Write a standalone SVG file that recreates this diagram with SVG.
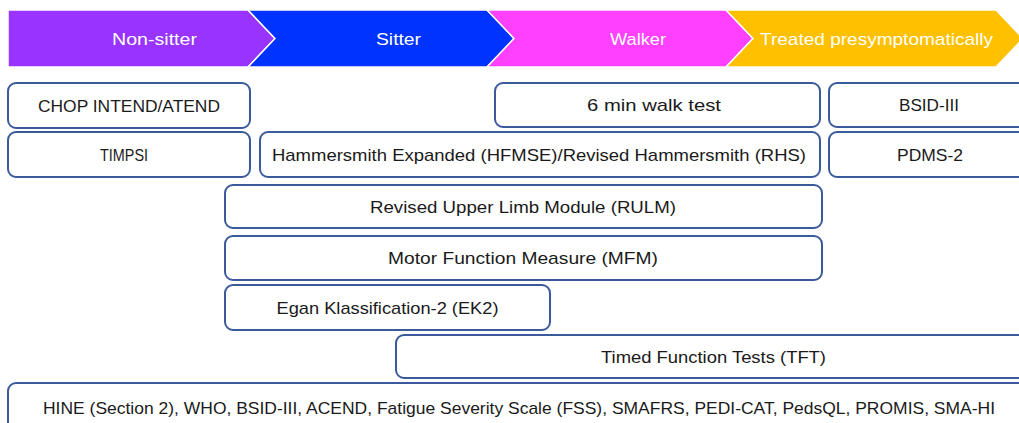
<svg xmlns="http://www.w3.org/2000/svg" width="1019" height="423" viewBox="0 0 1019 423">
<style>
.chev{stroke:#ffffff;stroke-width:1.5;stroke-linejoin:miter}
.hdr{font-family:"Liberation Sans",Arial,sans-serif;font-size:17px;fill:#ffffff;text-anchor:middle}
.box{fill:#ffffff;stroke:#3a5a9b;stroke-width:2}
.lbl{font-family:"Liberation Sans",Arial,sans-serif;font-size:17px;fill:#1a1a1a;text-anchor:middle}
</style>
<rect width="1019" height="423" fill="#ffffff"/>
<g id="stage-nonsitter">
<polygon class="chev" fill="#9933ff" points="8,10 248,10 275,38.5 248,67 8,67"/>
<text class="hdr" x="154.5" y="45" textLength="85" lengthAdjust="spacingAndGlyphs">Non-sitter</text>
</g>
<g id="stage-sitter">
<polygon class="chev" fill="#0033ff" points="248,10 487,10 514,38.5 487,67 248,67 275,38.5"/>
<text class="hdr" x="398.5" y="45" textLength="45" lengthAdjust="spacingAndGlyphs">Sitter</text>
</g>
<g id="stage-walker">
<polygon class="chev" fill="#ff40ff" points="487,10 726,10 753,38.5 726,67 487,67 514,38.5"/>
<text class="hdr" x="638" y="45" textLength="56" lengthAdjust="spacingAndGlyphs">Walker</text>
</g>
<g id="stage-treated">
<polygon class="chev" fill="#ffc000" points="726,10 996,10 1023,38.5 996,67 726,67 753,38.5"/>
<text class="hdr" x="876.5" y="45" textLength="233" lengthAdjust="spacingAndGlyphs">Treated presymptomatically</text>
</g>
<g id="chop">
<rect class="box" x="8" y="83" width="242" height="45" rx="8"/>
<text class="lbl" x="129" y="112" textLength="182" lengthAdjust="spacingAndGlyphs">CHOP INTEND/ATEND</text>
</g>
<g id="timpsi">
<rect class="box" x="8" y="132" width="242" height="45" rx="8"/>
<text class="lbl" x="124" y="161" textLength="48" lengthAdjust="spacingAndGlyphs">TIMPSI</text>
</g>
<g id="walktest">
<rect class="box" x="495" y="83" width="325" height="44" rx="8"/>
<text class="lbl" x="654" y="111" textLength="134" lengthAdjust="spacingAndGlyphs">6 min walk test</text>
</g>
<g id="bsid">
<rect class="box" x="829" y="83" width="201" height="44" rx="8"/>
<text class="lbl" x="929" y="111" textLength="60" lengthAdjust="spacingAndGlyphs">BSID-III</text>
</g>
<g id="hammersmith">
<rect class="box" x="260" y="132" width="560" height="45" rx="8"/>
<text class="lbl" x="539" y="161" textLength="534" lengthAdjust="spacingAndGlyphs">Hammersmith Expanded (HFMSE)/Revised Hammersmith (RHS)</text>
</g>
<g id="pdms">
<rect class="box" x="829" y="132" width="201" height="45" rx="8"/>
<text class="lbl" x="930" y="161" textLength="66" lengthAdjust="spacingAndGlyphs">PDMS-2</text>
</g>
<g id="rulm">
<rect class="box" x="225" y="185" width="597" height="43" rx="8"/>
<text class="lbl" x="523" y="213" textLength="306" lengthAdjust="spacingAndGlyphs">Revised Upper Limb Module (RULM)</text>
</g>
<g id="mfm">
<rect class="box" x="225" y="236" width="597" height="44" rx="8"/>
<text class="lbl" x="523" y="264" textLength="270" lengthAdjust="spacingAndGlyphs">Motor Function Measure (MFM)</text>
</g>
<g id="ek2">
<rect class="box" x="225" y="285" width="325" height="45" rx="8"/>
<text class="lbl" x="387.5" y="314" textLength="222" lengthAdjust="spacingAndGlyphs">Egan Klassification-2 (EK2)</text>
</g>
<g id="tft">
<rect class="box" x="396" y="335" width="634" height="43" rx="8"/>
<text class="lbl" x="713.5" y="363" textLength="225" lengthAdjust="spacingAndGlyphs">Timed Function Tests (TFT)</text>
</g>
<g id="other">
<rect class="box" x="8" y="383" width="1022" height="50" rx="8"/>
<text class="lbl" x="519" y="414" textLength="952" lengthAdjust="spacingAndGlyphs">HINE (Section 2), WHO, BSID-III, ACEND, Fatigue Severity Scale (FSS), SMAFRS, PEDI-CAT, PedsQL, PROMIS, SMA-HI</text>
</g>
<g id="connectors"></g>
</svg>
